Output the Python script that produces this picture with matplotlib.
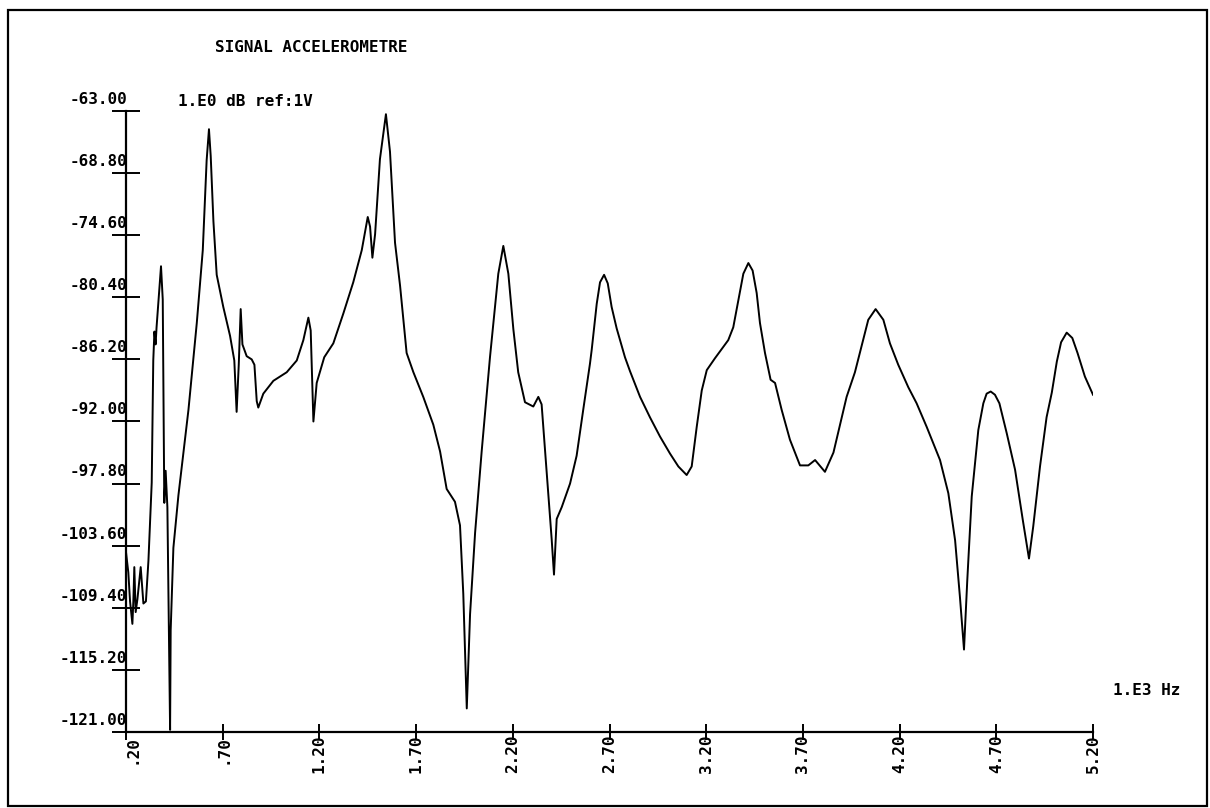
import matplotlib
matplotlib.use("Agg")
import matplotlib.pyplot as plt
from matplotlib.patches import Rectangle

# ---- data (frequency in kHz, level in dB ref 1V) ----
freq_khz = [
    0.200, 0.212, 0.221, 0.233, 0.238, 0.243, 0.250, 0.259, 0.276, 0.290,
    0.303, 0.316, 0.333, 0.341, 0.347, 0.353, 0.358, 0.381, 0.390, 0.398,
    0.405, 0.414, 0.428, 0.431, 0.445, 0.471, 0.523, 0.566, 0.597, 0.617,
    0.629, 0.638, 0.652, 0.669, 0.703, 0.738, 0.760, 0.772, 0.783, 0.793,
    0.802, 0.824, 0.850, 0.864, 0.876, 0.884, 0.910, 0.962, 1.031, 1.083,
    1.117, 1.143, 1.155, 1.169, 1.186, 1.225, 1.272, 1.324, 1.375, 1.419,
    1.450, 1.462, 1.474, 1.488, 1.513, 1.544, 1.565, 1.591, 1.617, 1.651,
    1.686, 1.737, 1.789, 1.824, 1.858, 1.901, 1.927, 1.944, 1.962, 1.979,
    2.005, 2.039, 2.082, 2.125, 2.151, 2.177, 2.203, 2.228, 2.263, 2.306,
    2.332, 2.349, 2.375, 2.401, 2.413, 2.427, 2.453, 2.496, 2.530, 2.565,
    2.599, 2.608, 2.634, 2.651, 2.672, 2.691, 2.711, 2.737, 2.780, 2.806,
    2.858, 2.909, 2.961, 3.013, 3.056, 3.099, 3.125, 3.151, 3.177, 3.203,
    3.245, 3.314, 3.340, 3.366, 3.392, 3.418, 3.440, 3.461, 3.478, 3.504,
    3.533, 3.556, 3.590, 3.633, 3.685, 3.728, 3.763, 3.814, 3.858, 3.892,
    3.926, 3.969, 4.004, 4.038, 4.076, 4.116, 4.150, 4.193, 4.245, 4.288,
    4.340, 4.409, 4.452, 4.487, 4.512, 4.533, 4.550, 4.573, 4.607, 4.633,
    4.650, 4.671, 4.693, 4.716, 4.754, 4.797, 4.837, 4.869, 4.891, 4.926,
    4.960, 4.987, 5.013, 5.035, 5.064, 5.093, 5.120, 5.158, 5.200,
]
level_db = [
    -104.2, -106.1, -108.8, -110.9, -108.8, -105.6, -109.8, -108.6, -105.6, -109.0,
    -108.8, -105.0, -97.7, -86.3, -83.6, -84.8, -83.2, -77.5, -80.6, -99.6,
    -96.6, -100.0, -120.8, -111.5, -103.8, -98.9, -90.9, -82.8, -76.0, -67.6,
    -64.7, -67.2, -73.3, -78.3, -81.3, -84.0, -86.3, -91.1, -86.7, -81.5,
    -84.8, -85.9, -86.2, -86.7, -90.1, -90.7, -89.4, -88.2, -87.4, -86.3,
    -84.4, -82.3, -83.5, -92.0, -88.4, -86.0, -84.7, -81.9, -79.0, -76.0,
    -72.9, -73.8, -76.7, -74.5, -67.5, -63.3, -66.8, -75.3, -79.3, -85.6,
    -87.4, -89.7, -92.3, -94.8, -98.3, -99.5, -101.7, -108.1, -118.8, -110.0,
    -102.4, -94.8, -86.0, -78.2, -75.6, -78.2, -83.4, -87.4, -90.2, -90.6,
    -89.7, -90.4, -96.7, -103.0, -106.3, -101.1, -100.0, -97.8, -95.2, -90.8,
    -86.6, -85.3, -81.0, -79.0, -78.3, -79.1, -81.3, -83.3, -86.0, -87.3,
    -89.7, -91.6, -93.4, -95.0, -96.2, -97.0, -96.2, -92.5, -89.1, -87.2,
    -86.1, -84.4, -83.2, -80.7, -78.2, -77.2, -77.9, -80.0, -82.8, -85.6,
    -88.1, -88.4, -90.9, -93.7, -96.1, -96.1, -95.6, -96.7, -94.9, -92.3,
    -89.7, -87.4, -84.9, -82.5, -81.5, -82.5, -84.7, -86.7, -88.8, -90.3,
    -92.5, -95.6, -98.7, -103.1, -108.4, -113.3, -106.8, -99.0, -92.8, -90.3,
    -89.4, -89.2, -89.5, -90.3, -93.1, -96.5, -101.2, -104.8, -101.8, -96.2,
    -91.6, -89.3, -86.4, -84.6, -83.7, -84.2, -85.6, -87.8, -89.5,
]

x_ticks = [0.20, 0.70, 1.20, 1.70, 2.20, 2.70, 3.20, 3.70, 4.20, 4.70, 5.20]
x_tick_labels = [".20", ".70", "1.20", "1.70", "2.20", "2.70", "3.20", "3.70",
                 "4.20", "4.70", "5.20"]
y_ticks = [-63.0, -68.8, -74.6, -80.4, -86.2, -92.0, -97.8, -103.6, -109.4,
           -115.2, -121.0]
y_tick_labels = ["-63.00", "-68.80", "-74.60", "-80.40", "-86.20", "-92.00",
                 "-97.80", "-103.60", "-109.40", "-115.20", "-121.00"]

title_text = "SIGNAL ACCELEROMETRE"
unit_text = "1.E0 dB ref:1V"
x_unit_text = "1.E3 Hz"

# ---- figure ----
W, H = 1210, 808
fig = plt.figure(figsize=(W / 100, H / 100), dpi=100)
fig.patch.set_facecolor("white")
FONT = dict(family="DejaVu Sans Mono", fontsize=11.5, fontweight="bold", color="black")

ax = fig.add_axes([126 / W, 1 - 732 / H, (1093 - 126) / W, (732 - 111) / H])
ax.plot(freq_khz, level_db, color="black", lw=1.4, solid_joinstyle="round")
ax.set_xlim(0.2, 5.2)
ax.set_ylim(-121.0, -63.0)
for s in ("top", "right"):
    ax.spines[s].set_visible(False)
for s in ("left", "bottom"):
    ax.spines[s].set_linewidth(1.6)
ax.set_xticks(x_ticks)
ax.set_yticks(y_ticks)
ax.set_xticklabels([])
ax.set_yticklabels([])
ax.tick_params(axis="y", direction="inout", length=20, width=1.4)
ax.tick_params(axis="x", direction="inout", length=12, width=1.4)

for v, lab in zip(y_ticks, y_tick_labels):
    ax.annotate(lab, xy=(0, v), xycoords=ax.get_yaxis_transform(),
                xytext=(1, 3), textcoords="offset points",
                ha="right", va="bottom", **FONT)
for i, (v, lab) in enumerate(zip(x_ticks, x_tick_labels)):
    dx = 4 if i == 0 else 0
    ax.annotate(lab, xy=(v, 0), xycoords=ax.get_xaxis_transform(),
                xytext=(dx, -2), textcoords="offset points",
                ha="center", va="top", rotation=90, **FONT)

fig.text(215 / W, 1 - 52 / H, title_text, ha="left", va="baseline", **FONT)
fig.text(178 / W, 1 - 106 / H, unit_text, ha="left", va="baseline", **FONT)
fig.text(1113 / W, 1 - 695 / H, x_unit_text, ha="left", va="baseline", **FONT)

# outer frame
fig.patches.append(Rectangle((8 / W, 1 - 806 / H), (1207 - 8) / W, (806 - 10) / H,
                             transform=fig.transFigure, fill=False,
                             edgecolor="black", lw=1.6))

fig.savefig("out.png", dpi=100, facecolor="white")
